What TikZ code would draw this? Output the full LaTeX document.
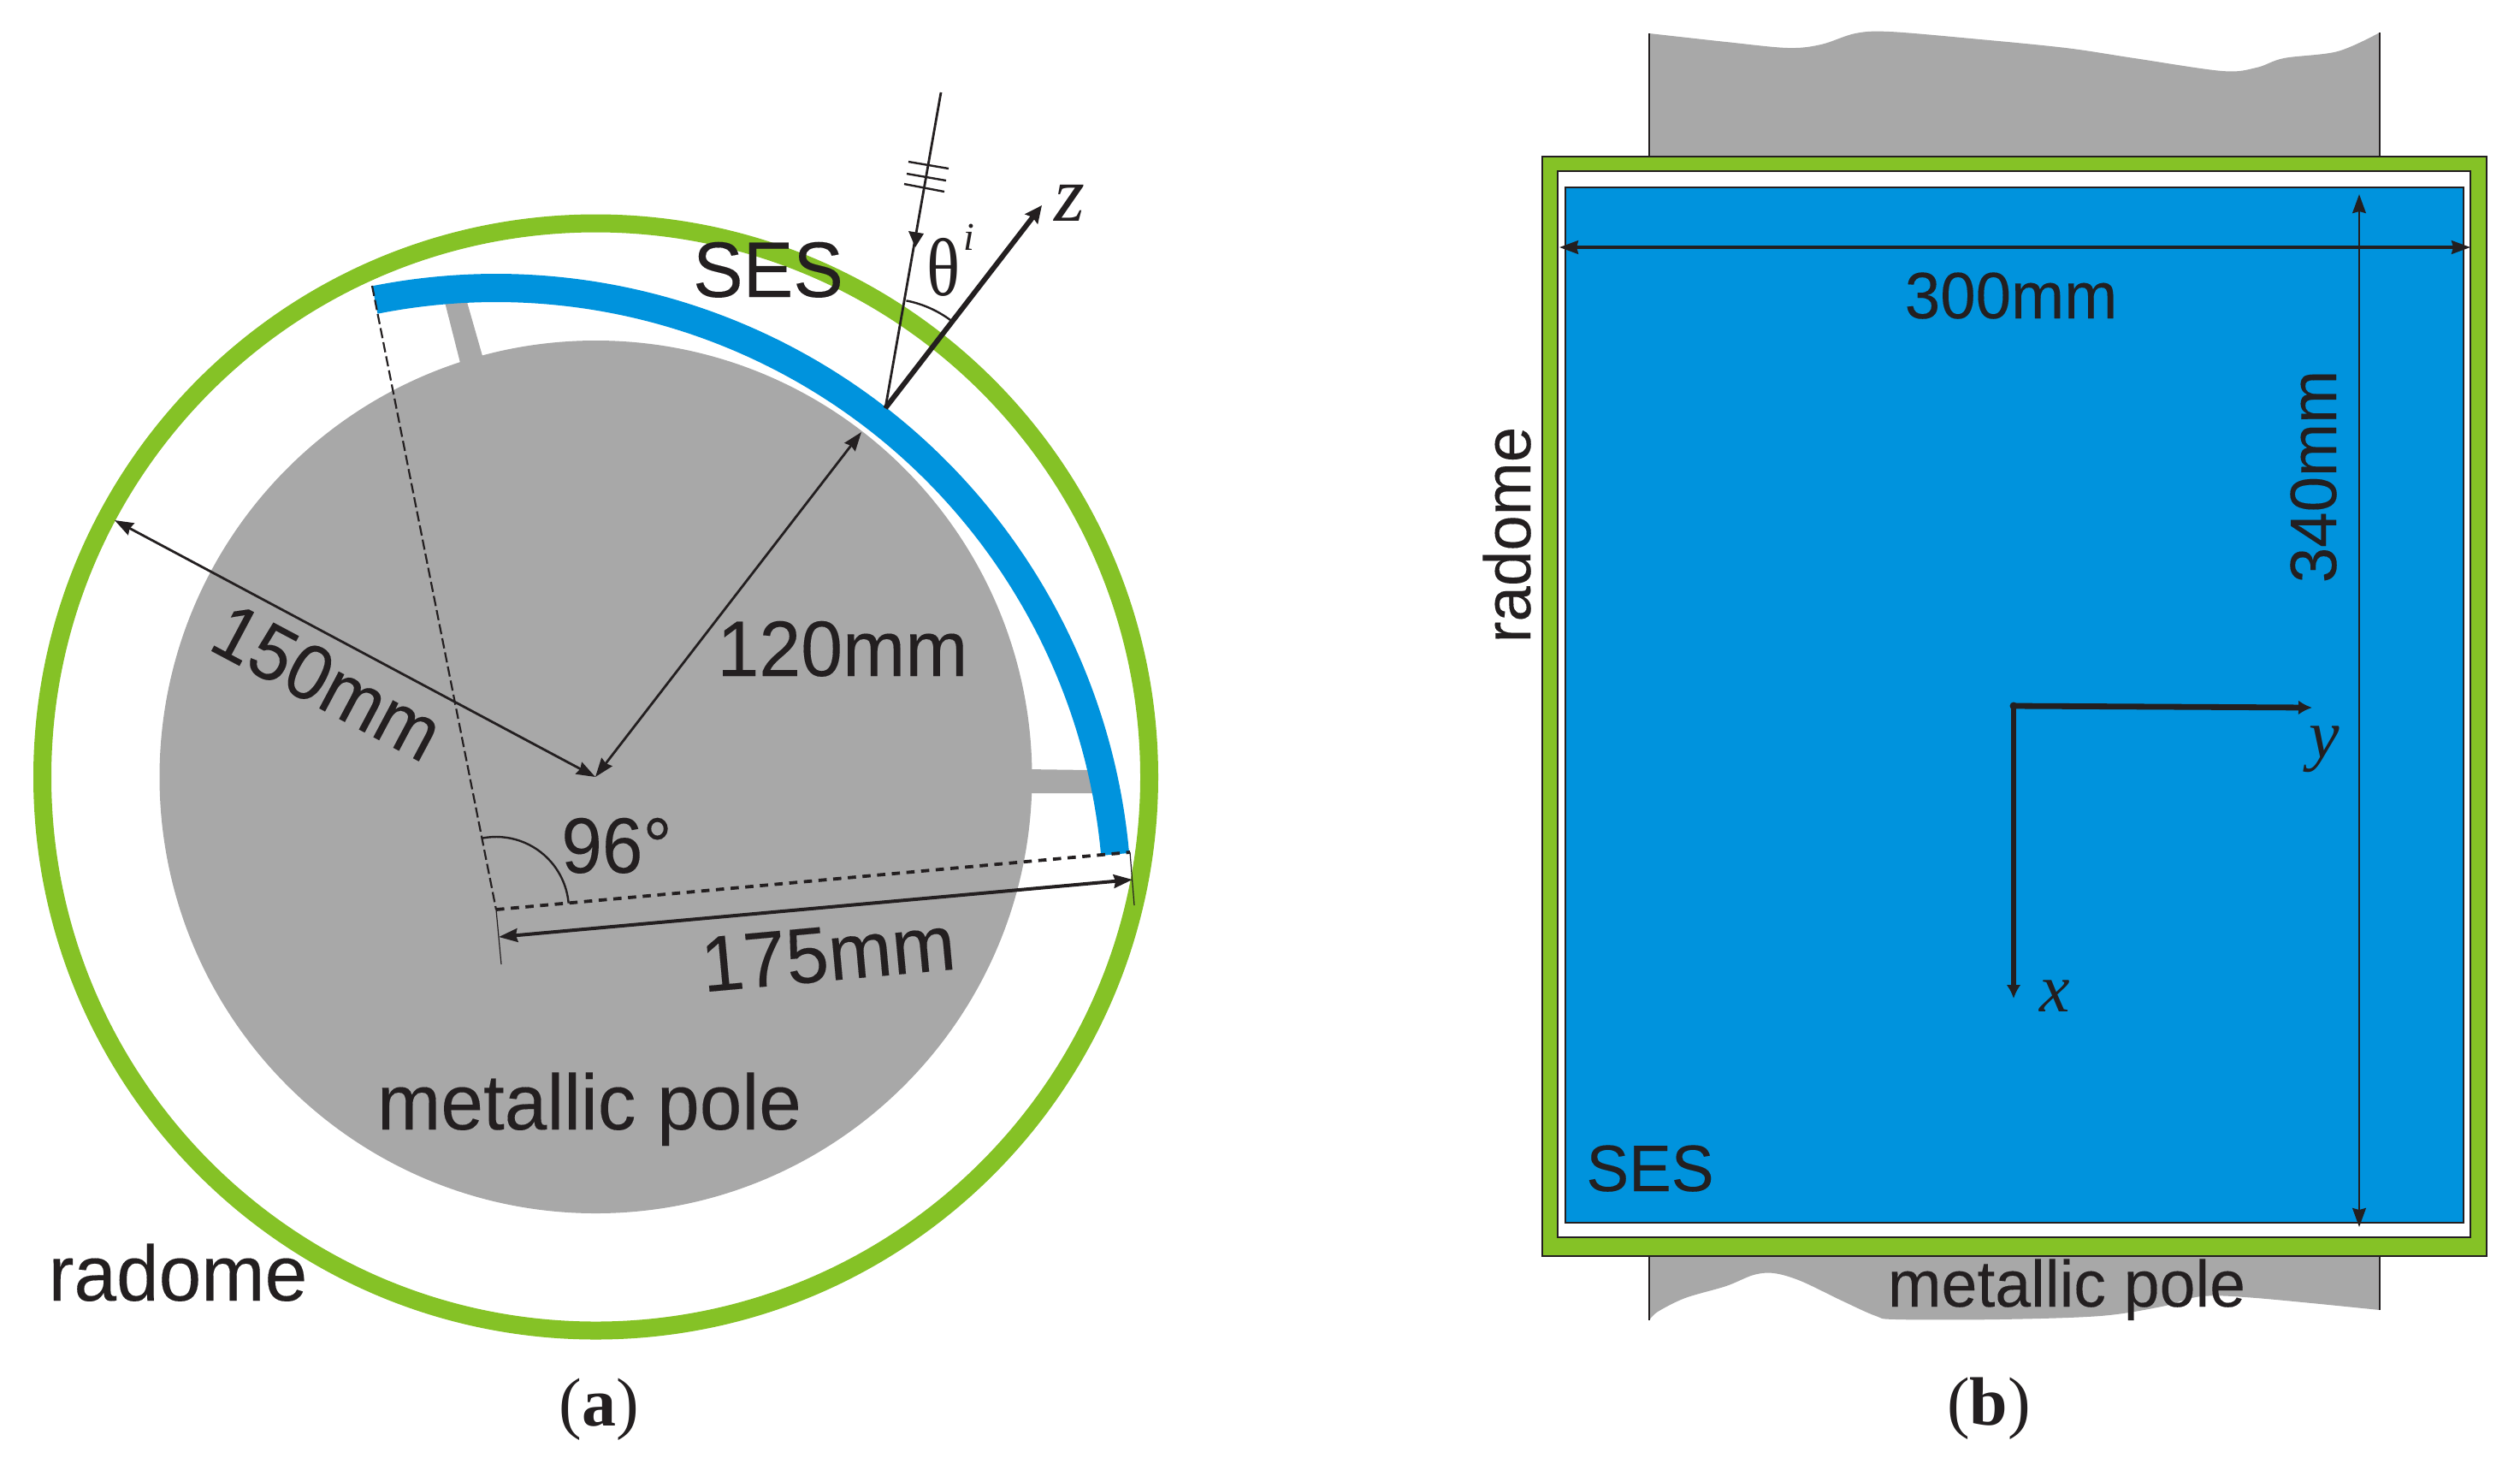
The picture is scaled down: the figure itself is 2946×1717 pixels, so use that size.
\documentclass[tikz,border=0pt]{standalone}
\usepackage{fontspec}
\setmainfont{Liberation Sans}[FakeBold=0.12]
\newfontfamily\serfont{Liberation Serif}
\usetikzlibrary{arrows.meta}
\definecolor{ink}{HTML}{231F20}
\definecolor{radgreen}{HTML}{85C226}
\definecolor{sesblue}{HTML}{0093DD}
\definecolor{polegray}{HTML}{A8A8A8}
\newcommand{\fa}{\fontsize{23}{27}\selectfont}
\newcommand{\fb}{\fontsize{19.2}{22}\selectfont}
\newcommand{\xs}[2]{\scalebox{#1}[1]{#2}}
\tikzset{
  lbl/.style={inner sep=0pt,outer sep=0pt,anchor=base,text=ink},
  dimtip/.style={{Stealth[length=5.5pt,width=3.9pt,inset=.5pt]}-{Stealth[length=5.5pt,width=3.9pt,inset=.5pt]}},
  thinline/.style={draw=ink,line width=.3pt},
  dimline/.style={draw=ink,line width=.7pt},
  frameline/.style={draw=ink,line width=.4pt},
  axisline/.style={draw=ink,line width=1.7pt,-{Latex[length=4pt,width=4.2pt]}}
}
\begin{document}
\begin{tikzpicture}[x=.25pt,y=-.25pt]
\useasboundingbox (0,0) rectangle (2946,1717);
% ---------- panel (a) ----------
\coordinate (C) at (696.5,908);
\coordinate (A) at (580,1063);
\coordinate (sesL) at (435,334);
\coordinate (sesR) at (1321,996);
\draw[radgreen,line width=5.25pt] (C) circle (647);
\fill[polegray] (C) circle (510);
\fill[polegray] (520,353) -- (546,353) -- (564,416) -- (539,428) -- cycle;
\fill[polegray] (1200,899) -- (1275,900) -- (1280,927) -- (1200,927) -- cycle;
\draw[sesblue,line width=8.25pt] (A) ++(-101.25:726.5) arc[start angle=-101.25,end angle=-5.1,radius=726.5];
% radial reference lines
\draw[draw=ink,line width=.55pt,dash pattern=on 3pt off 1.2pt] (sesL) -- (A);
\coordinate (Afoot) at (586,1127);
\draw[thinline] (A) -- (Afoot);
\draw[draw=ink,line width=.95pt,dash pattern=on 2.4pt off 1.9pt] (A) -- (sesR);
\coordinate (Rfoot) at (1326,1058);
\draw[thinline] (sesR) -- (Rfoot);
% dimensions
\coordinate (d150) at (134,608);
\coordinate (d120) at (1007,505);
\coordinate (M) at (696,908);
\draw[dimline,dimtip] (d150) -- (M);
\draw[dimline,dimtip] (d120) -- (M);
\coordinate (d175a) at (583,1095);
\coordinate (d175b) at (1324,1028);
\draw[draw=ink,line width=1pt,dimtip] (d175a) -- (d175b);
\draw[draw=ink,line width=.6pt] (A) ++(-100.8:85) arc[start angle=-100.8,end angle=-5,radius=85];
% incidence
\coordinate (P) at (1035,477);
\coordinate (inc) at (1100,108);
\coordinate (zend) at (1218,240);
\draw[draw=ink,line width=.7pt] (inc) -- (P);
\coordinate (t1) at (1062,189); \coordinate (t2) at (1109,197);
\coordinate (t3) at (1060,203); \coordinate (t4) at (1106,211);
\coordinate (t5) at (1057,215); \coordinate (t6) at (1104,224);
\draw[draw=ink,line width=.6pt] (t1) -- (t2) (t3) -- (t4) (t5) -- (t6);
\coordinate (h1) at (1062,270); \coordinate (h2) at (1080,273); \coordinate (h3) at (1070,289);
\fill[ink] (h1) -- (h2) -- (h3) -- cycle;
\draw[draw=ink,line width=1.5pt,-{Stealth[length=5pt,width=4.6pt,inset=.6pt]}] (P) -- (zend);
\draw[draw=ink,line width=.6pt] (P) ++(-79:128) arc[start angle=-79,end angle=-53.5,radius=128];
% labels (a)
\node[lbl] (lSESa) at (898,347) {\fa\xs{.955}{SES}};
\node[lbl] (l120) at (985,790) {\fa\xs{.955}{120mm}};
\node[lbl,rotate=-28] (l150) at (368,825) {\fa\xs{.935}{150mm}};
\node[lbl] (l96) at (721,1020) {\fa\xs{.93}{96°}};
\node[lbl,rotate=5.2] (l175) at (971,1146) {\fa\xs{.97}{175mm}};
\node[lbl] (lpolea) at (689,1320) {\fa\xs{.97}{metallic pole}};
\node[lbl] (lrada) at (208,1520) {\fa\xs{.97}{radome}};
\node[lbl] (ltheta) at (1103,345) {\fontsize{24}{28}\serfont\xs{.85}{θ}};
\node[lbl] (li) at (1133,292) {\fontsize{11.5}{14}\serfont\itshape i};
\node[lbl] (lz) at (1250,258) {\fontsize{23}{26}\serfont\itshape z};
\node[lbl] (capa) at (700,1666) {\fontsize{20}{24}\serfont(\textbf{a})};
% ---------- panel (b) ----------
\fill[polegray] plot[smooth,tension=.55] coordinates {(1928,39) (2018,49) (2090,56) (2129,52) (2169,39) (2209,37) (2304,45) (2415,56) (2495,68) (2598,83) (2638,79) (2670,68) (2733,60) (2782,38)} -- (2782,183) -- (1928,183) -- cycle;
\coordinate (pTL) at (1928,39); \coordinate (pTLb) at (1928,183);
\coordinate (pTR) at (2782,38); \coordinate (pTRb) at (2782,183);
\draw[thinline] (pTL) -- (pTLb) (pTR) -- (pTRb);
\fill[polegray] plot[smooth,tension=.55] coordinates {(1928,1543) (1938,1533) (1970,1517) (2018,1503) (2050,1490) (2074,1488) (2105,1497) (2153,1520) (2193,1538) (2217,1542) (2336,1542) (2455,1538) (2527,1527) (2574,1515) (2638,1517) (2782,1531)} -- (2782,1468) -- (1928,1468) -- cycle;
\coordinate (pBL) at (1928,1543); \coordinate (pBLt) at (1928,1468);
\coordinate (pBR) at (2782,1531); \coordinate (pBRt) at (2782,1468);
\draw[thinline] (pBL) -- (pBLt) (pBR) -- (pBRt);
\draw[frameline,fill=radgreen] (1803,183) rectangle (2907,1468);
\draw[frameline,fill=white] (1821,200) rectangle (2888,1446);
\draw[frameline,fill=sesblue] (1830,219) rectangle (2880,1429);
% dimensions (b)
\coordinate (w1) at (1823,289); \coordinate (w2) at (2888,289);
\draw[draw=ink,line width=.85pt,dimtip] (w1) -- (w2);
\coordinate (h1b) at (2758,227); \coordinate (h2b) at (2758,1434);
\draw[dimline,dimtip] (h1b) -- (h2b);
\coordinate (O) at (2354,825);
\coordinate (Oy) at (2703,827);
\coordinate (Ox) at (2354,1167);
\draw[axisline] (O) -- (Oy);
\draw[axisline] (O) -- (Ox);
\fill[ink] (O) circle (4.5);
% labels (b)
\node[lbl] (l300) at (2351,372) {\fb\xs{.97}{300mm}};
\node[lbl,rotate=90] (l340) at (2731,557) {\fb\xs{.97}{340mm}};
\node[lbl,rotate=90] (lradb) at (1789,625) {\fb\xs{.97}{radome}};
\node[lbl] (lSESb) at (1929,1392) {\fb\xs{.97}{SES}};
\node[lbl] (lpoleb) at (2416,1527) {\fb\xs{.98}{metallic pole}};
\node[lbl] (ly) at (2717,885) {\fontsize{20}{23}\serfont\itshape y};
\node[lbl] (lx) at (2402,1182) {\fontsize{20}{23}\serfont\itshape x};
\node[lbl] (capb) at (2325,1665) {\fontsize{20}{24}\serfont(\textbf{b})};
\end{tikzpicture}
\end{document}
